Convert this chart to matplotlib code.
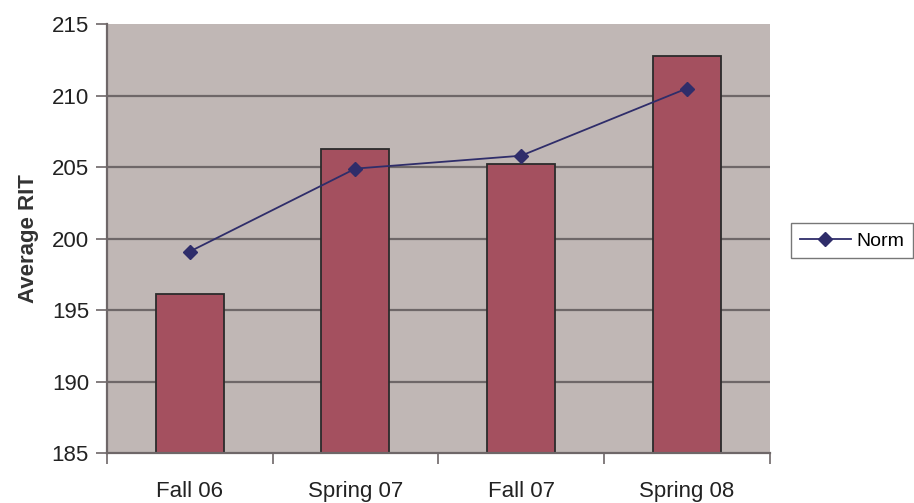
import matplotlib
matplotlib.use("Agg")
import matplotlib.pyplot as plt
import numpy as np

categories = ["Fall 06", "Spring 07", "Fall 07", "Spring 08"]
rit_values = [196.1, 206.3, 205.2, 212.8]
norm_values = [199.1, 204.9, 205.8, 210.5]
y_ticks = [185, 190, 195, 200, 205, 210, 215]

plt.rcParams["font.family"] = ["Liberation Sans", "DejaVu Sans"]

fig = plt.figure(figsize=(9.14, 5.03), dpi=100)
ax = fig.add_axes([0.117, 0.099, 0.725, 0.853])

x = np.arange(len(categories))
ax.set_facecolor("#C0B7B5")
for yv in y_ticks[1:-1]:
    ax.axhline(yv, color="#6E6768", lw=1.6, zorder=1)

ax.bar(x, [v - 185 for v in rit_values], bottom=185, width=0.41,
       color="#A4505F", edgecolor="#2B2B2B", linewidth=1.3, zorder=2)
ax.plot(x, norm_values, color="#2F2D6A", lw=1.3, marker="D", markersize=7,
        zorder=3, label="Norm")

ax.set_xlim(-0.5, len(categories) - 0.5)
ax.set_ylim(185, 215)
ax.set_yticks(y_ticks)
ax.set_yticklabels([str(v) for v in y_ticks], fontsize=16, color="#222222")
ax.set_xticks(np.arange(-0.5, len(categories), 1.0))
ax.set_xticklabels([])
ax.set_xticks(x, minor=True)
ax.set_xticklabels(categories, minor=True, fontsize=16, color="#222222")
ax.tick_params(axis="x", which="major", length=8, width=1.2, color="#6E6768", direction="out")
ax.tick_params(axis="x", which="minor", length=0, pad=20)
ax.tick_params(axis="y", length=8, width=1.2, color="#6E6768", direction="out", pad=5)

for side in ["top", "right"]:
    ax.spines[side].set_visible(False)
for side in ["left", "bottom"]:
    ax.spines[side].set_color("#6E6768")
    ax.spines[side].set_linewidth(1.6)

ax.set_ylabel("Average RIT", fontsize=16, fontweight="bold", color="#333333", labelpad=9)

leg = ax.legend(loc="center left", bbox_to_anchor=(1.033, 0.495), fontsize=14,
                frameon=True, fancybox=False, handlelength=2.6, borderpad=0.45,
                handletextpad=0.3, borderaxespad=0)
leg.get_frame().set_edgecolor("#555555")
leg.get_frame().set_linewidth(1.0)

fig.savefig("out.png", dpi=100)
